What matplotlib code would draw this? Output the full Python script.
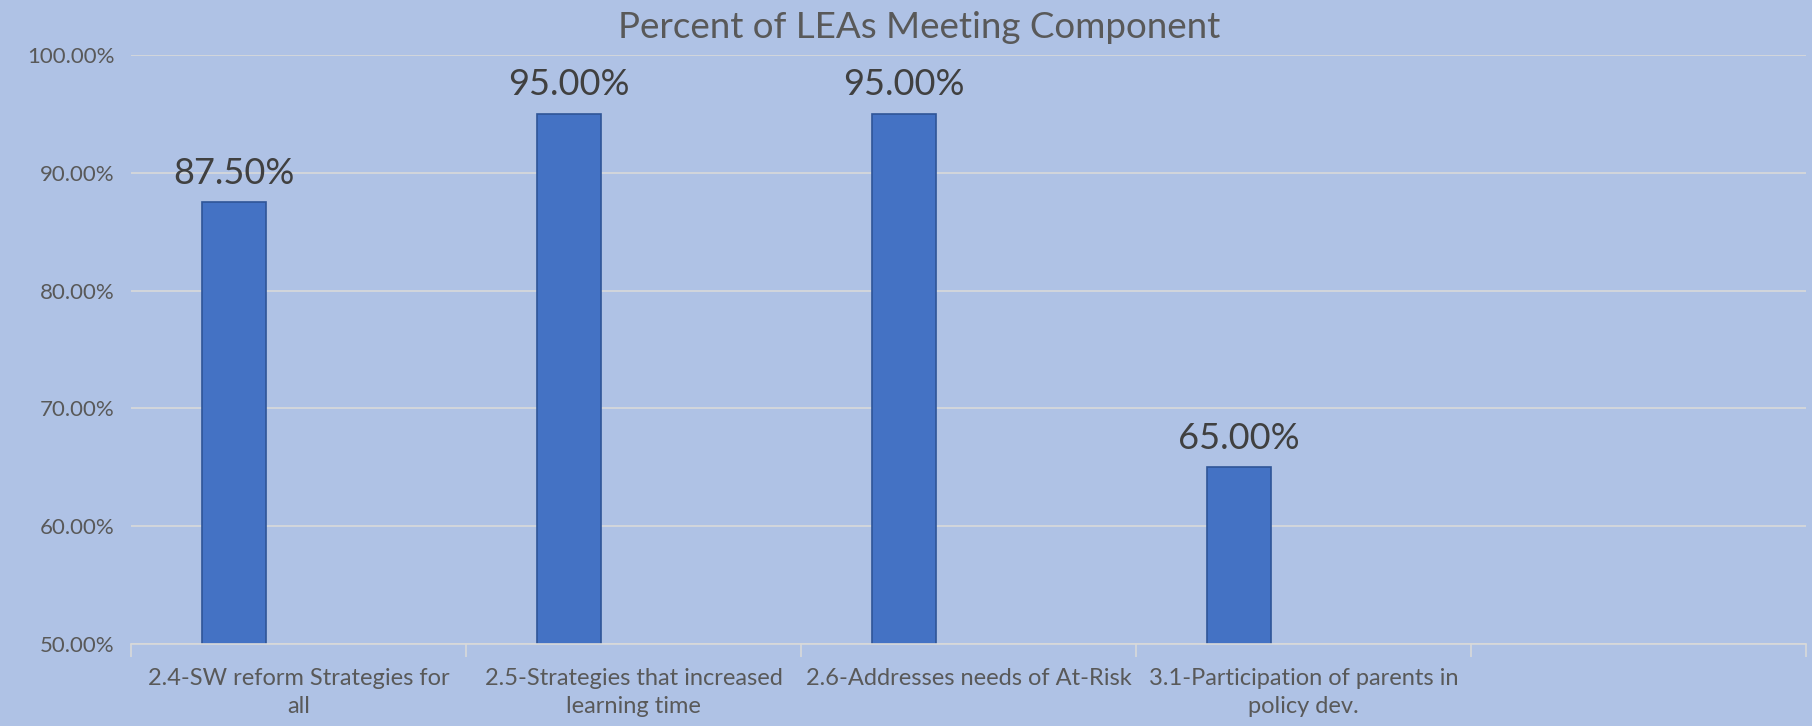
import matplotlib.pyplot as plt
import numpy as np

categories = ['2.4-SW reform Strategies for\nall',
              '2.5-Strategies that increased\nlearning time',
              '2.6-Addresses needs of At-Risk',
              '3.1-Participation of parents in\npolicy dev.',
              '']
values = [87.5, 95.0, 95.0, 65.0, None]
labels = ['87.50%', '95.00%', '95.00%', '65.00%', '']
yticks = [50, 60, 70, 80, 90, 100]

bg = '#AFC2E5'
plt.rcParams['font.family'] = ['Lato', 'DejaVu Sans']

fig = plt.figure(figsize=(18.12, 7.26), dpi=100, facecolor=bg)
ax = fig.add_axes([131 / 1812, 1 - 644 / 726, (1806 - 131) / 1812, (644 - 55) / 726])
ax.set_facecolor(bg)

x = np.arange(len(categories))
w = 0.193
vals = [v if v is not None else 0 for v in values]
bars = ax.bar(x - w, vals, width=w, color='#4472C4', edgecolor='#2F5597',
              linewidth=1.2, zorder=3)

for xi, v, lab in zip(x, values, labels):
    if v is None:
        continue
    ax.annotate(lab, (xi - w, v), xytext=(0, 9), textcoords='offset points',
                ha='center', va='bottom', fontsize=26, color='#404040')

ax.set_ylim(50, 100)
ax.set_xlim(-0.5, len(categories) - 0.5)
ax.set_yticks(yticks)
ax.set_yticklabels(['%.2f%%' % t for t in yticks], fontsize=16, color='#595959')
ax.tick_params(axis='y', length=0, pad=12)
ax.grid(axis='y', color='#D9D9D9', linewidth=1.2, zorder=0)

ax.set_xticks(x)
ax.set_xticklabels(categories, fontsize=17, color='#595959', linespacing=1.45)
ax.set_xticks(np.arange(len(categories) + 1) - 0.5, minor=True)
ax.tick_params(axis='x', which='major', length=0, pad=17)
ax.tick_params(axis='x', which='minor', length=9, color='#D9D9D9', width=1.2)

for s in ['top', 'right', 'left']:
    ax.spines[s].set_visible(False)
ax.spines['bottom'].set_color('#D9D9D9')
ax.spines['bottom'].set_linewidth(1.2)
ax.spines['bottom'].set_zorder(4)

fig.text(919 / 1812, 1 - 27 / 726, 'Percent of LEAs Meeting Component',
         ha='center', va='center', fontsize=26.5, color='#595959')

fig.savefig('out.png', facecolor=bg)
